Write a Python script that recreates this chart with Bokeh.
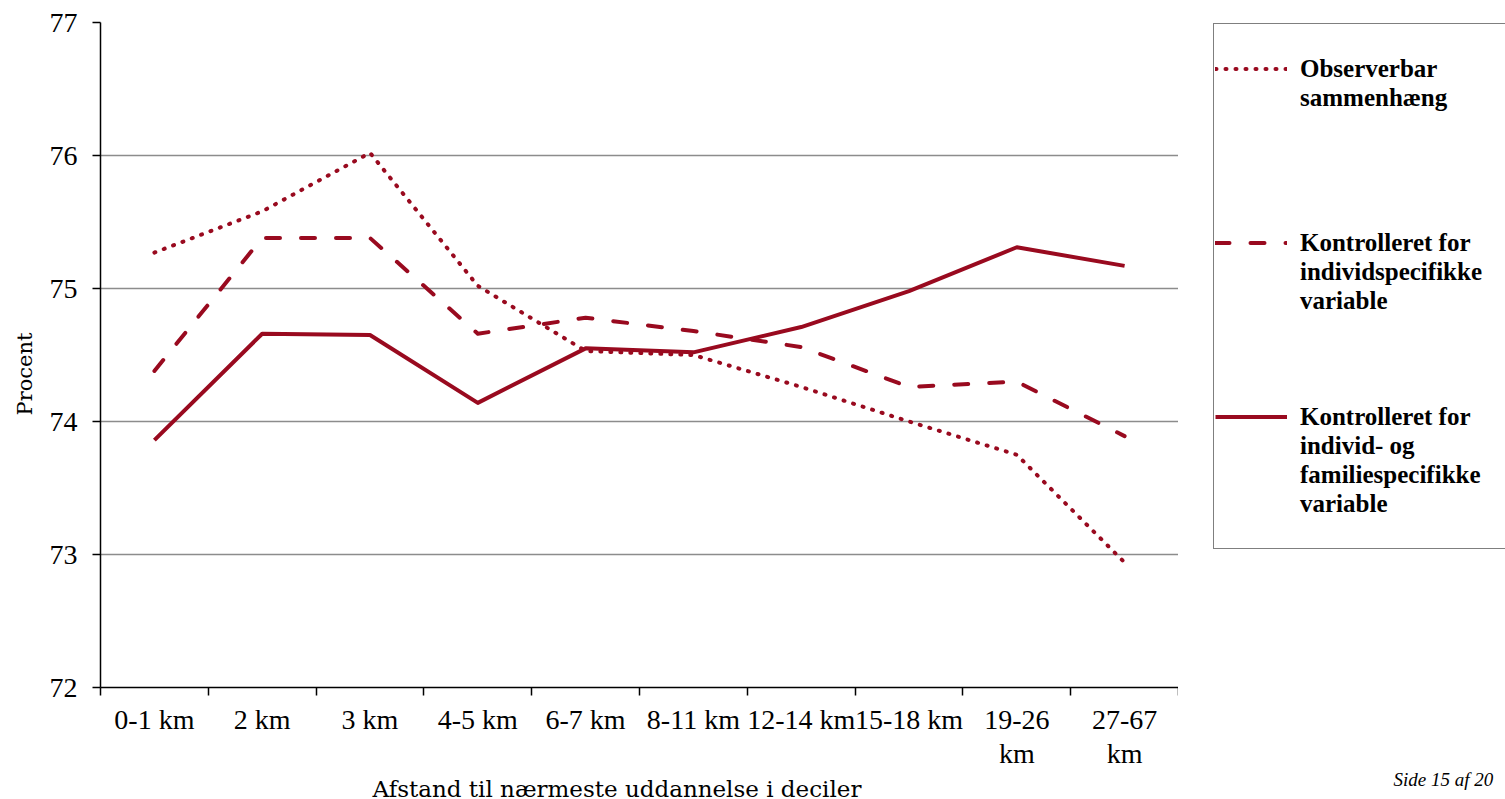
from bokeh.plotting import figure
from bokeh.layouts import row
from bokeh.models import Range1d, FixedTicker, Legend, LegendItem, Title, LinearAxis
from bokeh.embed import file_html
from bokeh.resources import INLINE

categories = ["0-1 km", "2 km", "3 km", "4-5 km", "6-7 km", "8-11 km",
              "12-14 km", "15-18 km", "19-26\nkm", "27-67\nkm"]
observerbar = [75.27, 75.58, 76.02, 75.02, 74.53, 74.50, 74.26, 74.00, 73.75, 72.94]
kontrol_individ = [74.38, 75.38, 75.38, 74.66, 74.78, 74.68, 74.56, 74.26, 74.30, 73.89]
kontrol_familie = [73.86, 74.66, 74.65, 74.14, 74.55, 74.52, 74.71, 74.98, 75.31, 75.17]
y_ticks = [72, 73, 74, 75, 76, 77]

legend_lines = [["Observerbar", "sammenhæng"],
                ["Kontrolleret for", "individspecifikke", "variable"],
                ["Kontrolleret for", "individ- og", "familiespecifikke", "variable"]]

x_title = "Afstand til nærmeste uddannelse i deciler"
y_title = "Procent"
footer = "Side 15 af 20"

RED = "#990A1F"
DOT = dict(line_color=RED, line_width=4, line_dash="1 9", line_cap="round", line_join="round")
DASH = dict(line_color=RED, line_width=4, line_dash="14 21", line_cap="round", line_join="round")
SOLID = dict(line_color=RED, line_width=4, line_join="round")

n = len(categories)
centers = [i + 0.5 for i in range(n)]

# ---------------- main chart ----------------
p = figure(frame_width=1078, frame_height=665,
           x_range=Range1d(0, n), y_range=Range1d(y_ticks[0], y_ticks[-1]),
           output_backend="svg", toolbar_location=None,
           min_border_left=100, min_border_right=0,
           min_border_top=22, min_border_bottom=112,
           background_fill_color="white", border_fill_color="white")
p.outline_line_color = None

p.line(centers, observerbar, **DOT)
p.line(centers, kontrol_individ, **DASH)
p.line(centers, kontrol_familie, **SOLID)

xa = p.xaxis[0]
xa.ticker = FixedTicker(ticks=centers, minor_ticks=list(range(n + 1)))
xa.major_label_overrides = {c: lab for c, lab in zip(centers, categories)}
xa.major_tick_out = 0
xa.major_tick_in = 0
xa.minor_tick_out = 8
xa.minor_tick_in = 0
xa.minor_tick_line_color = "black"
xa.minor_tick_line_width = 1.5
xa.axis_line_color = "black"
xa.axis_line_width = 1.5
xa.major_label_text_font = "Liberation Serif"
xa.major_label_text_font_size = "28px"
xa.major_label_text_line_height = 1.1
xa.major_label_text_color = "black"
xa.major_label_standoff = 8

ya = p.yaxis[0]
ya.ticker = FixedTicker(ticks=y_ticks, minor_ticks=[])
ya.major_tick_out = 8
ya.major_tick_in = 0
ya.major_tick_line_color = "black"
ya.major_tick_line_width = 1.5
ya.minor_tick_out = 0
ya.minor_tick_in = 0
ya.axis_line_color = "black"
ya.axis_line_width = 1.5
ya.major_label_text_font = "Liberation Serif"
ya.major_label_text_font_size = "28px"
ya.major_label_text_color = "black"
ya.major_label_standoff = 15

p.xgrid.visible = False
p.ygrid.ticker = FixedTicker(ticks=y_ticks[1:])
p.ygrid.grid_line_color = "#8C8C8C"
p.ygrid.grid_line_width = 1.5

p.add_layout(Title(text=y_title, align="left", offset=272, standoff=19,
                   text_font="DejaVu Serif", text_font_size="21px",
                   text_font_style="normal", text_color="black"), "left")
p.add_layout(Title(text=x_title, align="left", offset=272, standoff=4,
                   text_font="DejaVu Serif", text_font_size="23px",
                   text_font_style="normal", text_color="black"), "below")

# ---------------- legend / footer panel ----------------
q = figure(width=327, height=799, x_range=Range1d(0, 1), y_range=Range1d(0, 1),
           x_axis_type=None, y_axis_type=None, output_backend="svg",
           toolbar_location=None, min_border=0,
           background_fill_color="white", border_fill_color="white")
q.outline_line_color = None
q.grid.visible = False

off = [-5, -4]
l_obs = q.line(x=off, y=off, **DOT)
l_ind = q.line(x=off, y=off, **DASH)
l_fam = q.line(x=off, y=off, **SOLID)
l_blank = q.line(x=off, y=off, line_alpha=0)

renderers = [l_obs, l_ind, l_fam]
start_rows = [1, 7, 13]
rows = [(" ", l_blank) for _ in range(18)]
for r, lines, start in zip(renderers, legend_lines, start_rows):
    for k, txt in enumerate(lines):
        rows[start + k] = (txt, r if k == 0 else l_blank)
items = [LegendItem(label=t, renderers=[rr]) for t, rr in rows]
legend = Legend(items=items, location=(35, 134), orientation="vertical",
                padding=1, spacing=0, margin=0,
                label_height=29, glyph_height=29, glyph_width=72,
                label_standoff=13, label_width=230,
                label_text_font="Liberation Serif", label_text_font_style="bold",
                label_text_font_size="25px", label_text_color="black",
                border_line_color="black", border_line_width=1.5,
                background_fill_color="white", background_fill_alpha=1.0)
q.add_layout(legend)

# blank spacer axis (white tick on white, no labels) pushes the footer down
spacer = LinearAxis(ticker=FixedTicker(ticks=[0.5], minor_ticks=[]),
                    major_label_text_alpha=0, axis_line_alpha=0,
                    major_tick_line_color="white", major_tick_out=83, major_tick_in=0,
                    minor_tick_out=0, minor_tick_in=0, major_label_standoff=0)
q.add_layout(spacer, "below")
q.add_layout(Title(text=footer, align="left", offset=215, standoff=0,
                   text_font="Liberation Serif", text_font_size="19px",
                   text_font_style="italic", text_color="black"), "below")

layout = row(p, q, spacing=0)
open("out.html", "w").write(file_html(layout, INLINE))
